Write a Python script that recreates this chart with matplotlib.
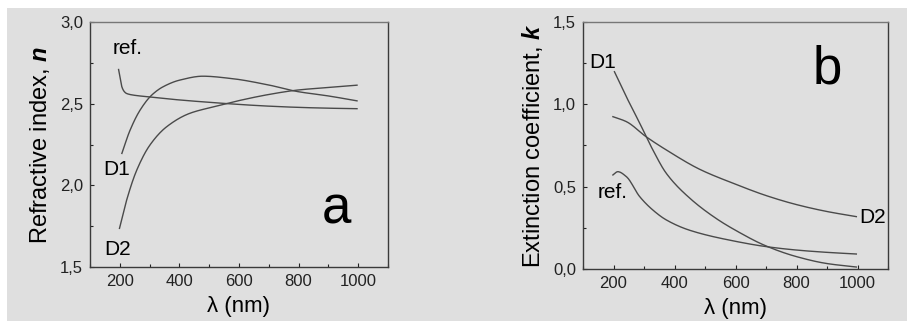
import numpy as np
import matplotlib
matplotlib.use("Agg")
import matplotlib.pyplot as plt
from matplotlib.patches import Rectangle
from matplotlib.ticker import MultipleLocator

plt.rcParams['font.family'] = ['Liberation Sans', 'DejaVu Sans']
plt.rcParams['mathtext.fontset'] = 'custom'
plt.rcParams['mathtext.bfit'] = 'Liberation Sans:italic:bold'
plt.rcParams['mathtext.it'] = 'Liberation Sans:italic'

# panel a: refractive index n
ref_n_x = [196, 201, 207, 215, 223, 246, 300, 379, 500, 601, 684, 800, 900, 996]
ref_n_y = [2.71, 2.66, 2.604, 2.575, 2.563, 2.553, 2.542, 2.527, 2.509, 2.496, 2.487, 2.478, 2.473, 2.47]
d1_n_x = [207, 234, 268, 307, 345, 401, 479, 573, 700, 796, 900, 996]
d1_n_y = [2.196, 2.336, 2.461, 2.553, 2.604, 2.645, 2.669, 2.655, 2.615, 2.575, 2.548, 2.518]
d2_n_x = [199, 223, 257, 301, 357, 434, 523, 601, 700, 796, 900, 996]
d2_n_y = [1.737, 1.91, 2.094, 2.247, 2.359, 2.441, 2.485, 2.52, 2.557, 2.584, 2.600, 2.614]

# panel b: extinction coefficient k
d1_k_x = [203, 242, 286, 329, 373, 450, 538, 600, 700, 800, 900, 996]
d1_k_y = [1.198, 1.046, 0.885, 0.723, 0.581, 0.43, 0.305, 0.235, 0.14, 0.075, 0.033, 0.012]
d2_k_x = [198, 242, 307, 373, 483, 600, 700, 800, 900, 996]
d2_k_y = [0.925, 0.895, 0.803, 0.723, 0.605, 0.515, 0.446, 0.391, 0.349, 0.318]
ref_k_x = [198, 214, 242, 286, 329, 373, 450, 600, 700, 800, 900, 996]
ref_k_y = [0.571, 0.591, 0.561, 0.439, 0.358, 0.298, 0.235, 0.168, 0.136, 0.115, 0.101, 0.091]


def smooth(x, y, n=300):
    # monotone cubic (Fritsch-Butland) through the read points
    x = np.asarray(x, float)
    y = np.asarray(y, float)
    xs = np.linspace(x[0], x[-1], n)
    h = np.diff(x)
    d = np.diff(y) / h
    m = np.zeros_like(y)
    m[0], m[-1] = d[0], d[-1]
    for i in range(1, len(x) - 1):
        if d[i - 1] * d[i] <= 0:
            m[i] = 0
        else:
            w1 = 2 * h[i] + h[i - 1]
            w2 = h[i] + 2 * h[i - 1]
            m[i] = (w1 + w2) / (w1 / d[i - 1] + w2 / d[i])
    idx = np.clip(np.searchsorted(x, xs) - 1, 0, len(x) - 2)
    t = (xs - x[idx]) / h[idx]
    h00 = 2 * t**3 - 3 * t**2 + 1
    h10 = t**3 - 2 * t**2 + t
    h01 = -2 * t**3 + 3 * t**2
    h11 = t**3 - t**2
    ys = h00 * y[idx] + h10 * h[idx] * m[idx] + h01 * y[idx + 1] + h11 * h[idx] * m[idx + 1]
    return xs, ys


bg = '#dfdfdf'
lc = '#4a4a4a'
comma = plt.FuncFormatter(lambda v, p: f'{v:.1f}'.replace('.', ','))

fig = plt.figure(figsize=(9.07, 3.21), dpi=100)
fig.patch.set_facecolor('white')
fig.patches.append(Rectangle((7 / 907, 0), 900 / 907, 313 / 321, transform=fig.transFigure,
                             facecolor=bg, edgecolor='none', zorder=-10))

ax1 = fig.add_axes([0.0992, 0.168, 0.3286, 0.763])
ax2 = fig.add_axes([0.6428, 0.162, 0.3363, 0.7695])

for ax in (ax1, ax2):
    ax.set_facecolor(bg)
    ax.set_xlim(100, 1100)
    ax.xaxis.set_major_locator(MultipleLocator(200))
    ax.xaxis.set_minor_locator(MultipleLocator(100))
    ax.yaxis.set_major_locator(MultipleLocator(0.5))
    ax.yaxis.set_minor_locator(MultipleLocator(0.25))
    ax.yaxis.set_major_formatter(comma)
    ax.tick_params(which='both', direction='in', top=False, right=False,
                   labelsize=12, colors='#222222', width=0.8)
    ax.tick_params(which='major', length=3, pad=5)
    ax.tick_params(which='minor', length=2)
    for s in ax.spines.values():
        s.set_color('#3a3a3a')
        s.set_linewidth(1.0)
    ax.spines['top'].set_color('#777777')
    ax.set_xlabel('λ (nm)', fontsize=16, labelpad=5)

ax1.set_ylim(1.5, 3.0)
ax1.set_ylabel(r'Refractive index, $\mathbfit{n}$', fontsize=17, labelpad=6)

for xs, ys in [(ref_n_x, ref_n_y), (d1_n_x, d1_n_y), (d2_n_x, d2_n_y)]:
    sx, sy = smooth(xs, ys)
    ax1.plot(sx, sy, color=lc, lw=1.0)

ax1.text(228, 2.84, 'ref.', fontsize=15, ha='center', va='center')
ax1.text(191, 2.10, 'D1', fontsize=15, ha='center', va='center')
ax1.text(191, 1.61, 'D2', fontsize=15, ha='center', va='center')
ax1.text(928, 1.85, 'a', fontsize=38, ha='center', va='center')

ax2.set_ylim(0.0, 1.5)
ax2.set_ylabel(r'Extinction coefficient, $\mathbfit{k}$', fontsize=17, labelpad=6)

for xs, ys in [(d1_k_x, d1_k_y), (d2_k_x, d2_k_y), (ref_k_x, ref_k_y)]:
    sx, sy = smooth(xs, ys)
    ax2.plot(sx, sy, color=lc, lw=1.0)

ax2.text(164, 1.257, 'D1', fontsize=15, ha='center', va='center')
ax2.text(1049, 0.314, 'D2', fontsize=15, ha='center', va='center')
ax2.text(197, 0.466, 'ref.', fontsize=15, ha='center', va='center')
ax2.text(901, 1.21, 'b', fontsize=38, ha='center', va='center')

fig.savefig('out.png', dpi=100, facecolor=fig.get_facecolor())
